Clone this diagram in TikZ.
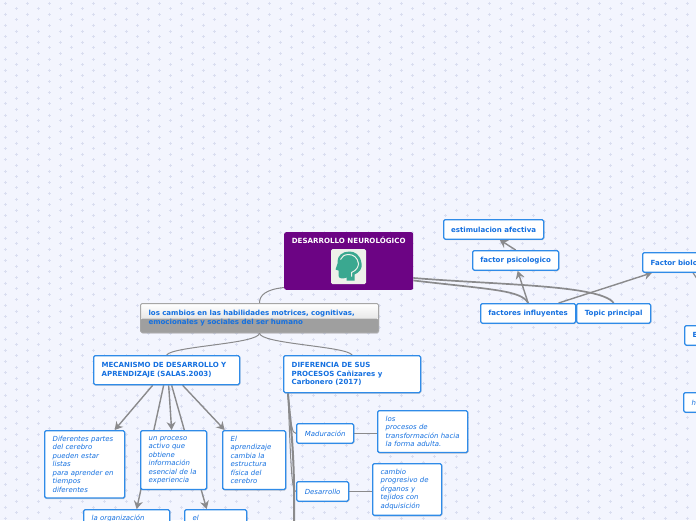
\documentclass[tikz,border=0pt]{standalone}
\usepackage{fontspec}
\setmainfont{DejaVu Sans}
\usepackage{xcolor}
\usepackage{tikz}
\usetikzlibrary{arrows.meta, positioning, calc, shadows, backgrounds}
\definecolor{mapblue}{RGB}{47,139,232}
\definecolor{maptext}{RGB}{20,112,224}
\definecolor{mapgray}{RGB}{138,138,140}
\definecolor{mappurple}{RGB}{108,4,132}
\definecolor{mapteal}{RGB}{58,168,144}
\definecolor{mapicon}{RGB}{238,240,234}
\definecolor{mapback}{RGB}{243,245,254}
\definecolor{mapdot}{RGB}{218,222,240}
\tikzset{
  topic/.style={rectangle, draw=mapblue, fill=white, line width=1.3pt, rounded corners=1.5pt,
    anchor=north west, inner xsep=8pt, inner ysep=5.5pt, align=left, text=maptext,
    font=\fontsize{7.05}{8.5}\selectfont\bfseries,
    drop shadow={shadow xshift=0.6pt, shadow yshift=-1pt, opacity=.4, fill=gray}},
  tag/.style={topic, inner xsep=0pt, inner ysep=0pt, align=center, minimum height=19.5pt},
  leaf/.style={topic, font=\fontsize{6.95}{8.5}\selectfont\itshape},
  leaftag/.style={tag, font=\fontsize{6.95}{8.5}\selectfont\itshape},
  link/.style={draw=mapgray, line width=1.7pt},
  thin link/.style={link, line width=1pt},
  flow/.style={link, line width=1.4pt, -{Stealth[length=8pt,width=9pt]}}
}
\begin{document}
\begin{tikzpicture}[x=1pt, y=-1pt]
  \useasboundingbox (0,0) rectangle (696,520);

  \node[rectangle, fill=mappurple, rounded corners=2pt, anchor=north west, minimum width=129pt, minimum height=57pt,
    text depth=41pt, inner ysep=5pt, text=white, font=\fontsize{7.1}{8.5}\selectfont\bfseries] (root) at (284,232) {DESARROLLO NEUROLÓGICO};
  \node[rectangle, fill=mapicon, rounded corners=1.5pt, minimum size=35pt, inner sep=0pt] (icon) at (348.5,266.5) {};
  \begin{scope}[shift={(icon.center)}]
    \fill[mapteal] (6,14) -- (6,8) .. controls (11,6) and (14,2) .. (13,-3) .. controls (12,-12) and (6,-15) .. (1,-15)
      .. controls (-6,-15) and (-11,-11) .. (-11,-5) -- (-11,-3) -- (-13,3) -- (-10,4) -- (-10,9) .. controls (-10,12) and (-6,13) .. (-2,11) -- (-2,14) -- cycle;
    \draw[mapicon, line width=1pt] (3,10) -- (3,6) .. controls (8,4) and (10,0) .. (10,-3) .. controls (9,-9) and (5,-12) .. (0,-12) .. controls (-4,-12) and (-7,-10) .. (-8,-7);
  \end{scope}

  \node[topic, inner sep=0pt, draw=gray!70, line width=1pt, minimum width=238pt, minimum height=29pt, text width=222pt,
    path picture={
      \shade[top color=white, bottom color=gray!35] (path picture bounding box.north west) rectangle ([yshift=-.5pt]path picture bounding box.east);
      \fill[gray!75] ([yshift=-.5pt]path picture bounding box.west) rectangle (path picture bounding box.south east);
    }] (grad) at (140,303) {los cambios en las habilidades motrices, cognitivas,\\emocionales y sociales del ser humano};

  \node[tag, minimum width=100pt] (estim) at (443,219) {estimulacion afectiva};
  \node[tag, minimum width=86pt] (psico) at (472,250) {factor psicologico};
  \node[tag, minimum width=95pt] (factores) at (480,303) {factores influyentes};
  \node[tag, minimum width=74pt] (principal) at (576,303) {Topic principal};
  \node[tag, minimum width=70pt, text width=54pt, align=left] (bio) at (642,252) {Factor biolo};
  \node[tag, minimum width=30pt, text width=14pt, align=left] (bioe) at (684,325) {E};
  \node[leaftag, minimum width=30pt, text width=14pt, align=left] (bioh) at (683,392) {h};

  \node[topic, minimum width=146pt, text width=130pt, minimum height=29pt] (mec) at (93,355) {MECANISMO DE DESARROLLO Y\\APRENDIZAJE (SALAS.2003)};
  \node[topic, minimum width=137pt, text width=121pt, minimum height=37pt] (dif) at (283,355) {DIFERENCIA DE SUS\\PROCESOS Cañizares y\\Carbonero (2017)};

  \node[leaf, minimum width=80pt, text width=64pt] (partes) at (44,430) {Diferentes partes\\del cerebro\\pueden estar\\listas\\para aprender en\\tiempos\\diferentes};
  \node[leaf, minimum width=66pt, text width=50pt] (activo) at (140,430) {un proceso\\activo que\\obtiene\\información\\esencial de la\\experiencia};
  \node[leaf, minimum width=63pt, text width=47pt] (estructura) at (222,430) {El\\aprendizaje\\cambia la\\estructura\\física del\\cerebro};
  \node[leaf, minimum width=86pt, text width=70pt, text depth=30pt] (organiz) at (83,509) {la organización};
  \node[leaf, minimum width=62pt, text width=46pt, text depth=30pt] (elnode) at (184,509) {el};

  \node[leaftag, minimum width=57pt] (madur) at (296,423) {Maduración};
  \node[leaf, minimum width=90pt, text width=74pt] (forma) at (377,410) {los\\procesos de\\\mbox{transformación hacia}\\la forma adulta.};
  \node[leaftag, minimum width=52pt] (desar) at (296,481) {Desarrollo};
  \node[leaf, minimum width=69pt, text width=53pt] (cambio) at (372,463) {cambio\\progresivo de\\órganos y\\tejidos con\\adquisición};

  \coordinate (difend) at (294,530);
  \coordinate (biotail) at (702,286);

  \begin{scope}[on background layer]
    \fill[mapback] (0,0) rectangle (696,520);
    \foreach \r in {0,...,92}{
      \pgfmathsetmacro{\rowx}{5+11*mod(\r,2)}
      \pgfmathsetmacro{\doty}{3+5.6*\r}
      \foreach \c in {0,...,31}{
        \pgfmathsetmacro{\dotx}{\rowx+22*\c}
        \draw[mapdot, line width=.7pt] (\dotx-1.5,\doty) -- (\dotx+1.5,\doty) (\dotx,\doty-1.5) -- (\dotx,\doty+1.5);
      }
    }
    \draw[thin link] ([yshift=-26.5pt]root.west) .. controls +(-18,2) and +(0,-8) .. (grad.north);
    \draw[thin link] (grad.south) .. controls +(0,11) and +(6,-9) .. (mec.north);
    \draw[thin link] (grad.south) .. controls +(0,11) and +(-6,-9) .. (dif.north);
    \draw[link] ([yshift=-19.5pt]root.east) .. controls +(77,9) and +(-7,-13) .. (factores.north);
    \draw[link] ([yshift=-17pt]root.east) .. controls +(87,7) and +(-13,-18) .. (principal.north);
    \draw[flow] (factores.north) -- ([xshift=2pt]psico.south);
    \draw[flow] (psico.north) -- ([xshift=6pt]estim.south);
    \draw[flow] ([xshift=30.5pt]factores.north) -- ([xshift=10pt]bio.south west);
    \draw[link, line width=1.2pt] ([xshift=51pt]bio.south west) -- (biotail);

    \draw[flow] ([xshift=-14pt]mec.south) -- ([xshift=30pt]partes.north);
    \draw[flow] ([xshift=-3pt]mec.south) -- ([xshift=10pt]organiz.north);
    \draw[flow] ([xshift=2pt]mec.south) -- ([xshift=-2pt]activo.north);
    \draw[flow] ([xshift=5pt]mec.south) -- ([xshift=-9pt]elnode.north);
    \draw[flow] ([xshift=16pt]mec.south) -- ([xshift=-29.5pt]estructura.north);

    \draw[link, line width=2pt] ([xshift=5pt]dif.south west) .. controls +(3,40) and +(1,-80) .. (difend);
    \draw[thin link] ([xshift=5pt]dif.south west) .. controls +(3,33) and +(-4,0) .. (madur.west);
    \draw[thin link] ([xshift=5pt]dif.south west) .. controls +(3,80) and +(-4,0) .. (desar.west);
    \draw[link] (madur.east) -- (forma.west |- madur.east);
    \draw[link] (desar.east) -- (cambio.west |- desar.east);
  \end{scope}
\end{tikzpicture}
\end{document}
